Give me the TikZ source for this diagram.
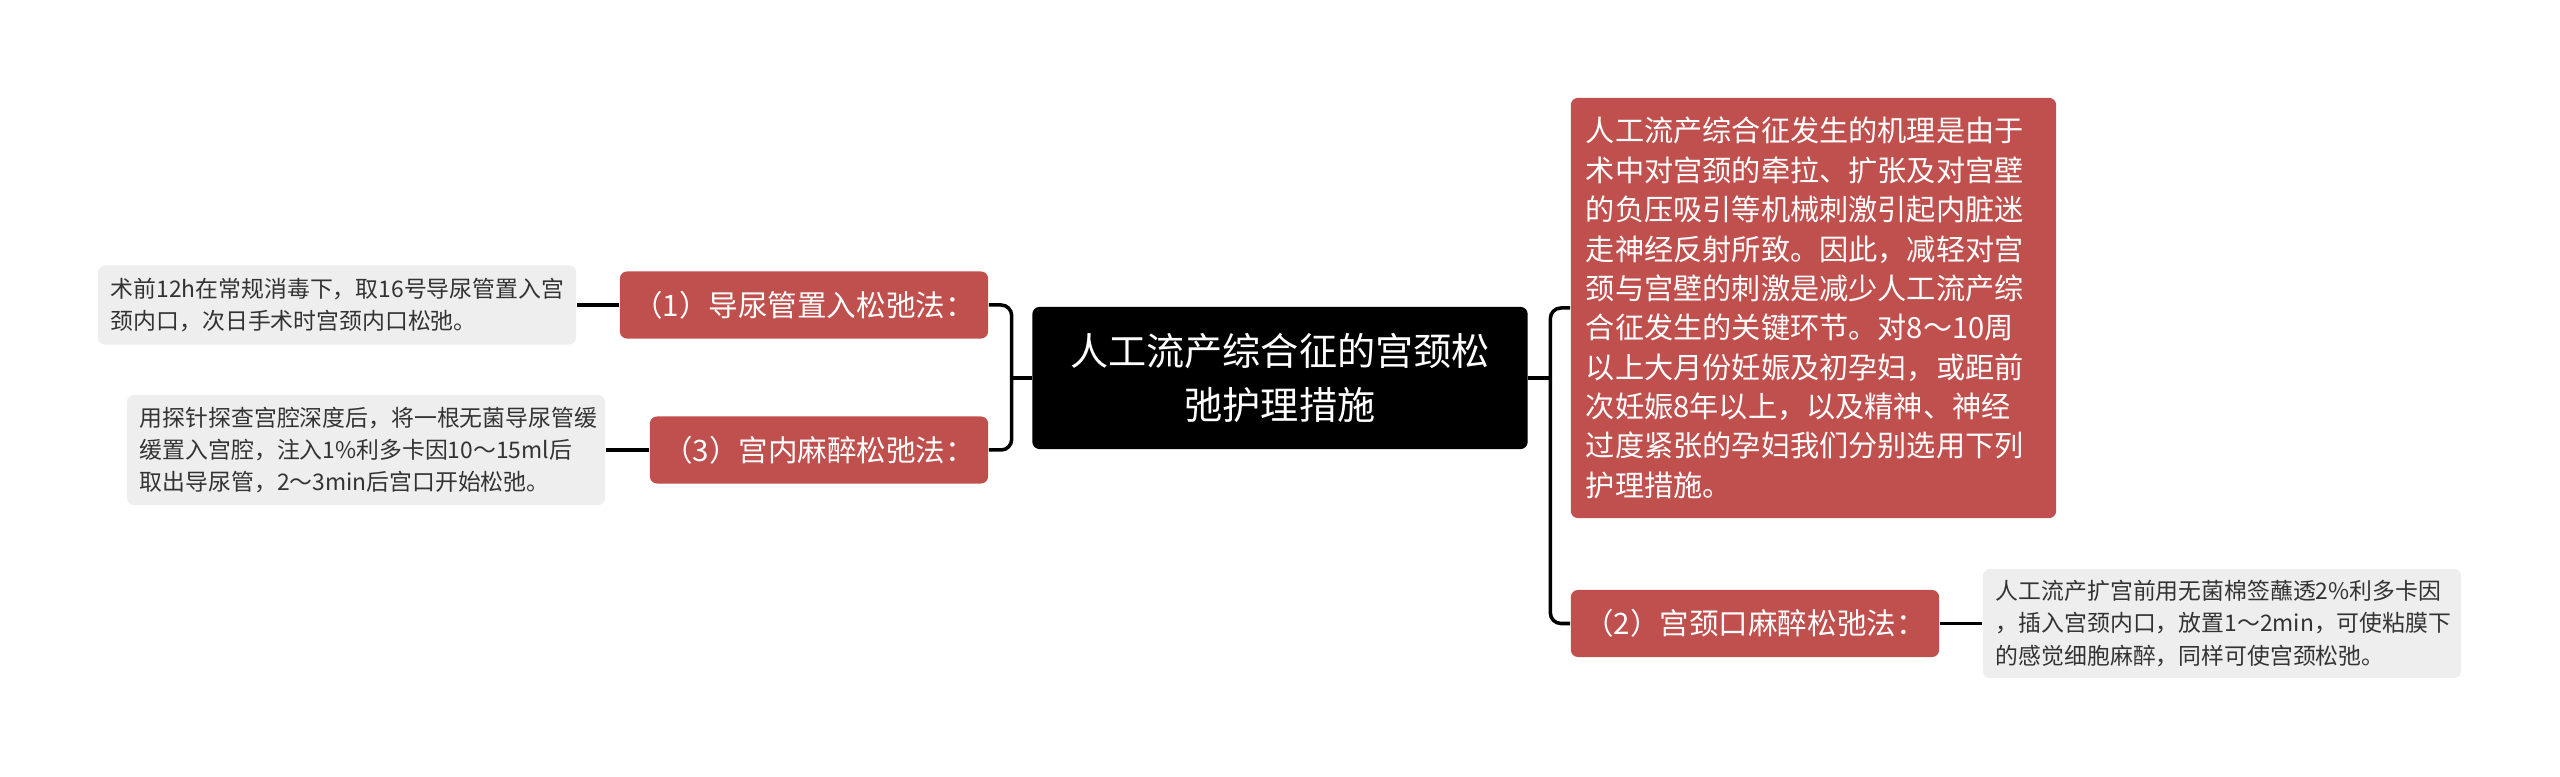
\documentclass[tikz,border=0pt]{standalone}
\usepackage{fontspec}
\setmainfont{Noto Sans CJK SC}
\definecolor{topicred}{HTML}{C0504D}
\definecolor{leafgrey}{HTML}{EEEEEE}
\definecolor{leaftext}{HTML}{333333}

\begin{document}
\begin{tikzpicture}[x=0.01cm, y=-0.01cm,
    link/.style={line width=1pt, black},
    rootbox/.style={fill=black, text=white, rounded corners=2pt, align=center,
        minimum width=4.95cm, minimum height=1.42cm, inner sep=0pt,
        font=\fontsize{10.85pt}{15.4pt}\selectfont},
    introbox/.style={fill=topicred, text=white, rounded corners=2pt, align=left,
        text width=4.55cm, inner xsep=0.15cm, minimum height=4.2cm,
        font=\fontsize{8.3pt}{11.2pt}\selectfont},
    topicbox/.style={fill=topicred, text=white, rounded corners=2pt,
        minimum height=0.67cm, inner sep=0pt,
        font=\fontsize{8.4pt}{10pt}\selectfont},
    leafbox/.style={fill=leafgrey, text=leaftext, rounded corners=2pt, align=left,
        text width=4.52cm, inner xsep=0.13cm, inner ysep=0pt,
        font=\fontsize{6.5pt}{9.2pt}\selectfont}
]
    \useasboundingbox (0,0) rectangle (2560,777);

    % central topic
    \node[rootbox] (root) at (1280,378) {人工流产综合征的宫颈松\\弛护理措施};

    % right side
    \node[introbox] (intro) at (1813.5,308) {人工流产综合征发生的机理是由于\\
        术中对宫颈的牵拉、扩张及对宫壁\\
        的负压吸引等机械刺激引起内脏迷\\
        走神经反射所致。因此，减轻对宫\\
        颈与宫壁的刺激是减少人工流产综\\
        合征发生的关键环节。对8～10周\\
        以上大月份妊娠及初孕妇，或距前\\
        次妊娠8年以上，以及精神、神经\\
        过度紧张的孕妇我们分别选用下列\\
        护理措施。};
    \node[topicbox, minimum width=3.68cm] (m2) at (1755,623.5) {（2）宫颈口麻醉松弛法：};
    \node[leafbox, minimum height=1.09cm] (d2) at (2222,623.5) {人工流产扩宫前用无菌棉签蘸透2\%利多卡因\\
        ，插入宫颈内口，放置1～2min，可使粘膜下\\
        的感觉细胞麻醉，同样可使宫颈松弛。};

    % left side
    \node[topicbox, minimum width=3.68cm] (m1) at (804,305) {（1）导尿管置入松弛法：};
    \node[leafbox, minimum height=0.79cm] (d1) at (337,305) {术前12h在常规消毒下，取16号导尿管置入宫\\
        颈内口，次日手术时宫颈内口松弛。};
    \node[topicbox, minimum width=3.38cm] (m3) at (819,450) {（3）宫内麻醉松弛法：};
    \node[leafbox, minimum height=1.10cm] (d3) at (366,450) {用探针探查宫腔深度后，将一根无菌导尿管缓\\
        缓置入宫腔，注入1\%利多卡因10～15ml后\\
        取出导尿管，2～3min后宫口开始松弛。};

    % connectors
    \path (root.west) ++(-20,0) coordinate (lbus);
    \path (root.east) ++(22,0) coordinate (rbus);
    \draw[link] (root.west) -- (lbus);
    \draw[link, rounded corners=3pt] (lbus) |- (m1.east);
    \draw[link, rounded corners=3pt] (lbus) |- (m3.east);
    \draw[link] (root.east) -- (rbus);
    \draw[link, rounded corners=3pt] (rbus) |- (intro.west);
    \draw[link, rounded corners=3pt] (rbus) |- (m2.west);
    \draw[link] (m1.west) -- (d1.east);
    \draw[link] (m3.west) -- (d3.east);
    \draw[link] (m2.east) -- (d2.west);
\end{tikzpicture}
\end{document}
